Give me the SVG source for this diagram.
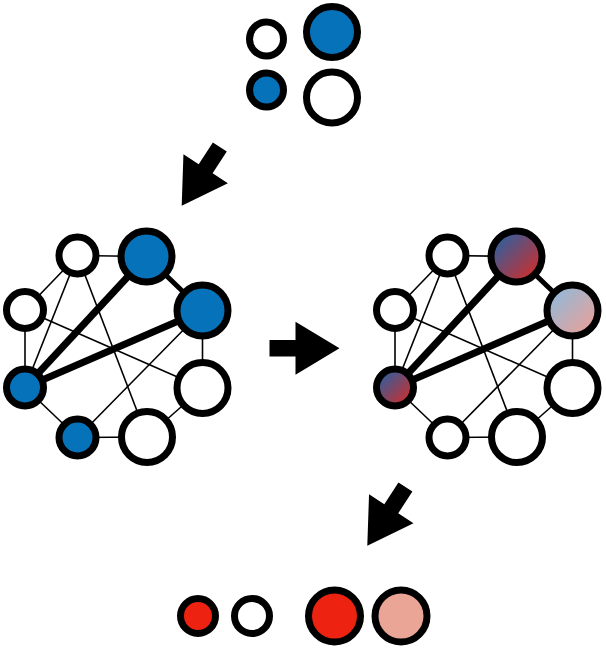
<svg xmlns="http://www.w3.org/2000/svg" xmlns:xlink="http://www.w3.org/1999/xlink" width="606" height="649" viewBox="0 0 606 649">
<style>
.n{stroke:#000;stroke-width:7}
.w{fill:#fff}
.b{fill:#0572b9}
.r{fill:#ee2211}
.p{fill:#eba597}
.e{stroke:#000;stroke-width:1.6;fill:none}
.t1{stroke:#000;stroke-width:5;fill:none}
.t2{stroke:#000;stroke-width:7;fill:none}
.arr{fill:#000}
</style>
<defs>
<linearGradient id="gBR" x1="0" y1="0" x2="1" y2="1">
<stop offset="0" stop-color="#1268b3"/>
<stop offset="1" stop-color="#e8261a"/>
</linearGradient>
<linearGradient id="gLight" x1="0" y1="0" x2="1" y2="1">
<stop offset="0" stop-color="#84bde3"/>
<stop offset="1" stop-color="#f59d90"/>
</linearGradient>
<path id="arrow" d="M0,0 L-44,-26.5 L-44,-8.3 L-70,-8.3 L-70,8.3 L-44,8.3 L-44,26.5 Z"/>
</defs>
<rect width="606" height="649" fill="#fff"/>

<g id="top-set">
<circle class="n w" cx="266.5" cy="39" r="17"/>
<circle class="n b" cx="332" cy="32" r="25.5"/>
<circle class="n b" cx="266.5" cy="90" r="17"/>
<circle class="n w" cx="332" cy="97.5" r="25.5"/>
</g>

<g id="arrows">
<use xlink:href="#arrow" class="arr" transform="translate(181.7,205.7) rotate(123)"/>
<use xlink:href="#arrow" class="arr" transform="translate(339.5,348.3)"/>
<use xlink:href="#arrow" class="arr" transform="translate(367.3,545.7) rotate(123)"/>
</g>

<g id="connectors-left">
<line class="e" x1="77.5" y1="255.5" x2="146.5" y2="256.5"/>
<line class="e" x1="77.5" y1="255.5" x2="25" y2="310"/>
<line class="e" x1="77.5" y1="255.5" x2="25" y2="387.5"/>
<line class="e" x1="77.5" y1="255.5" x2="147" y2="437"/>
<line class="e" x1="25" y1="310" x2="25" y2="387.5"/>
<line class="e" x1="25" y1="310" x2="202.5" y2="388"/>
<line class="e" x1="202.5" y1="310.5" x2="202.5" y2="388"/>
<line class="e" x1="202.5" y1="310.5" x2="77.5" y2="437.5"/>
<line class="e" x1="25" y1="387.5" x2="77.5" y2="437.5"/>
<line class="e" x1="77.5" y1="437.5" x2="147" y2="437"/>
<line class="e" x1="147" y1="437" x2="202.5" y2="388"/>
<line class="t1" x1="146.5" y1="256.5" x2="202.5" y2="310.5"/>
<line class="t2" x1="146.5" y1="256.5" x2="25" y2="387.5"/>
<line class="t2" x1="202.5" y1="310.5" x2="25" y2="387.5"/>
</g>

<g id="connectors-right">
<line class="e" x1="447.5" y1="255.5" x2="516.5" y2="256.5"/>
<line class="e" x1="447.5" y1="255.5" x2="395" y2="310"/>
<line class="e" x1="447.5" y1="255.5" x2="395" y2="387.5"/>
<line class="e" x1="447.5" y1="255.5" x2="517" y2="437"/>
<line class="e" x1="395" y1="310" x2="395" y2="387.5"/>
<line class="e" x1="395" y1="310" x2="572.5" y2="388"/>
<line class="e" x1="572.5" y1="310.5" x2="572.5" y2="388"/>
<line class="e" x1="572.5" y1="310.5" x2="447.5" y2="437.5"/>
<line class="e" x1="395" y1="387.5" x2="447.5" y2="437.5"/>
<line class="e" x1="447.5" y1="437.5" x2="517" y2="437"/>
<line class="e" x1="517" y1="437" x2="572.5" y2="388"/>
<line class="t1" x1="516.5" y1="256.5" x2="572.5" y2="310.5"/>
<line class="t2" x1="516.5" y1="256.5" x2="395" y2="387.5"/>
<line class="t2" x1="572.5" y1="310.5" x2="395" y2="387.5"/>
</g>

<g id="left-graph">
<g id="L-A"><circle class="n w" cx="77.5" cy="255.5" r="18.5"/></g>
<g id="L-B"><circle class="n b" cx="146.5" cy="256.5" r="25.5"/></g>
<g id="L-C"><circle class="n b" cx="202.5" cy="310.5" r="25.5"/></g>
<g id="L-D"><circle class="n w" cx="25" cy="310" r="18.5"/></g>
<g id="L-E"><circle class="n b" cx="25" cy="387.5" r="18.5"/></g>
<g id="L-F"><circle class="n w" cx="202.5" cy="388" r="25.5"/></g>
<g id="L-G"><circle class="n b" cx="77.5" cy="437.5" r="18.5"/></g>
<g id="L-H"><circle class="n w" cx="147" cy="437" r="25.5"/></g>
</g>

<g id="right-graph">
<g id="R-A"><circle class="n w" cx="447.5" cy="255.5" r="18.5"/></g>
<g id="R-B"><circle class="n" fill="url(#gBR)" cx="516.5" cy="256.5" r="25.5"/></g>
<g id="R-C"><circle class="n" fill="url(#gLight)" cx="572.5" cy="310.5" r="25.5"/></g>
<g id="R-D"><circle class="n w" cx="395" cy="310" r="18.5"/></g>
<g id="R-E"><circle class="n" fill="url(#gBR)" cx="395" cy="387.5" r="18.5"/></g>
<g id="R-F"><circle class="n w" cx="572.5" cy="388" r="25.5"/></g>
<g id="R-G"><circle class="n w" cx="447.5" cy="437.5" r="18.5"/></g>
<g id="R-H"><circle class="n w" cx="517" cy="437" r="25.5"/></g>
</g>

<g id="bottom-set">
<circle class="n r" cx="198" cy="616" r="17.5"/>
<circle class="n w" cx="252" cy="616" r="17.5"/>
<circle class="n r" cx="334.5" cy="616" r="26"/>
<circle class="n p" cx="401" cy="616" r="26"/>
</g>
</svg>
